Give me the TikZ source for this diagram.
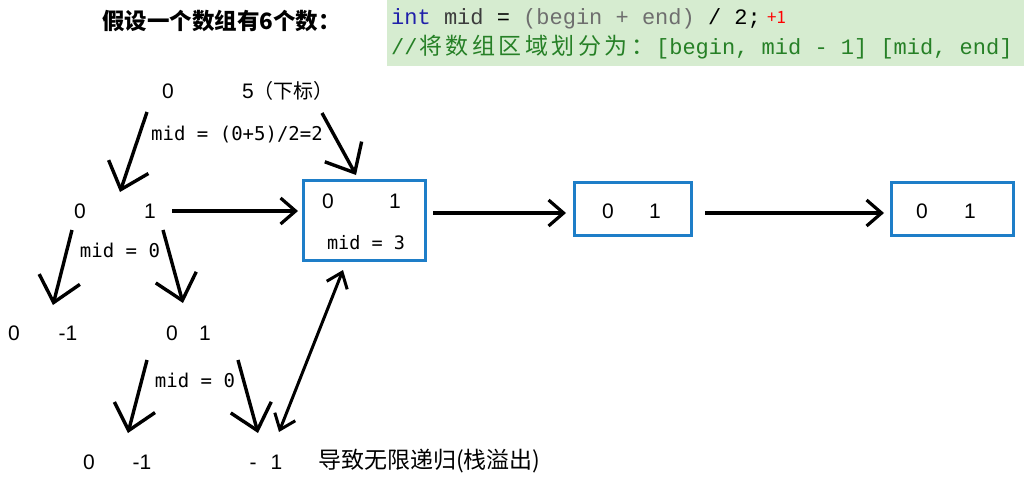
\documentclass[tikz,border=0pt]{standalone}
\usepackage{fontspec}
\setmainfont{Noto Sans CJK SC}
\newfontfamily\cjkfont{Noto Sans CJK SC}
\newfontfamily\monofont{Liberation Mono}
\newfontfamily\numfont{DejaVu Sans Mono}
\newfontfamily\digfont{Liberation Sans}
\usetikzlibrary{arrows.meta}
\definecolor{boxblue}{RGB}{30,126,200}
\definecolor{codebg}{RGB}{214,236,208}
\definecolor{intblue}{RGB}{32,32,170}
\definecolor{midgray}{RGB}{60,60,60}
\definecolor{pargray}{RGB}{110,110,110}
\definecolor{codegreen}{RGB}{38,128,38}
\newcommand\cjkbox[1]{\makebox[26.5pt]{\cjkfont\fontsize{23}{26}\selectfont #1}}
\begin{document}
\begin{tikzpicture}[x=1pt,y=-1pt,
  num/.style={font=\digfont\fontsize{21}{24}\selectfont, inner sep=0pt},
  midlbl/.style={font=\numfont\fontsize{19}{22}\selectfont, inner sep=0pt},
  bluebox/.style={draw=boxblue, line width=3pt, inner sep=0pt},
  tarrow/.style={line width=3.4pt, -{Straight Barb[length=24pt,width=42pt]}},
  harrow/.style={line width=3.2pt, -{Straight Barb[length=15pt,width=26pt]}},
  darrow/.style={line width=3pt, {Straight Barb[length=14pt,width=22pt]}-{Straight Barb[length=14pt,width=22pt]}}]
\useasboundingbox (0,0) rectangle (1024,477);
% code panel
\fill[codebg] (387,0) rectangle (1024,66);
\node[anchor=base west, inner sep=0pt, font=\monofont\fontsize{22}{26}\selectfont] (code1) at (391,24)
  {\textcolor{intblue}{int} \textcolor{midgray}{mid} = \textcolor{pargray}{(begin + end)} / 2;};
\node[anchor=base west, inner sep=0pt, font=\fontsize{17}{20}\selectfont, text=red] (plus1) at (767,23) {+1};
\node[anchor=base west, inner sep=0pt, font=\monofont\fontsize{22}{26}\selectfont, text=codegreen] (code2) at (391,54)
  {//\cjkbox{将}\cjkbox{数}\cjkbox{组}\cjkbox{区}\cjkbox{域}\cjkbox{划}\cjkbox{分}\cjkbox{为}\cjkbox{：}[begin, mid - 1] [mid, end]};
% title
\node[anchor=base west, inner sep=0pt, font=\bfseries\fontsize{22.5}{26}\selectfont] (title) at (102,29) {假设一个数组有6个数：};
% top level
\node[num] (t0) at (168,91) {0};
\node[num, anchor=west] (t5) at (242,91) {5{\cjkfont\fontsize{20}{24}\selectfont（下标）}};
\node[midlbl] (m1) at (237,135) {mid = (0+5)/2=2};
% level 2
\node[num] (a0) at (80,211) {0};
\node[num] (a1) at (150,211) {1};
\node[midlbl] (m2) at (120,250) {mid = 0};
% boxes
\node[bluebox, minimum width=122pt, minimum height=80pt] (b1) at (364,220) {};
\node[num] (b1l) at (328,201) {0};
\node[num] (b1r) at (395,201) {1};
\node[font=\numfont\fontsize{18.5}{22}\selectfont, inner sep=0pt] (b1m) at (366,243) {mid = 3};
\node[bluebox, minimum width=117pt, minimum height=53pt] (b2) at (632.5,208.5) {};
\node[num] (b2l) at (608,211) {0};
\node[num] (b2r) at (655,211) {1};
\node[bluebox, minimum width=122pt, minimum height=53pt] (b3) at (952,208.5) {};
\node[num] (b3l) at (922,211) {0};
\node[num] (b3r) at (970,211) {1};
% level 3
\node[num] (c0) at (14,333) {0};
\node[num] (c1) at (68,333) {-1};
\node[num] (d0) at (172,333) {0};
\node[num] (d1) at (205,333) {1};
\node[midlbl] (m3) at (195,380) {mid = 0};
% level 4
\node[num] (e0) at (89,462) {0};
\node[num] (e1) at (142,462) {-1};
\node[num] (f1) at (266,462) {-\hspace{14pt}1};
\node[anchor=base west, inner sep=0pt, font=\fontsize{23}{26}\selectfont] (note) at (318,468) {导致无限递归(栈溢出)};
% arrow coordinates
\coordinate (T1s) at (147,112); \coordinate (T1e) at (120,192);
\coordinate (T2s) at (322,113); \coordinate (T2e) at (356,175);
\coordinate (L1s) at (72,230);  \coordinate (L1e) at (53,305);
\coordinate (L2s) at (163,230); \coordinate (L2e) at (183,303);
\coordinate (M1s) at (147,360); \coordinate (M1e) at (128,433);
\coordinate (M2s) at (238,360); \coordinate (M2e) at (258,433);
\coordinate (H1s) at (172,211); \coordinate (H1e) at (298,211);
\coordinate (H2s) at (433,213); \coordinate (H2e) at (566,213);
\coordinate (H3s) at (705,213); \coordinate (H3e) at (884,213);
\coordinate (Ds) at (343,270);  \coordinate (De) at (279,432);
\draw[tarrow] (T1s) -- (T1e);
\draw[tarrow] (T2s) -- (T2e);
\draw[tarrow] (L1s) -- (L1e);
\draw[tarrow] (L2s) -- (L2e);
\draw[tarrow] (M1s) -- (M1e);
\draw[tarrow] (M2s) -- (M2e);
\draw[harrow] (H1s) -- (H1e);
\draw[harrow] (H2s) -- (H2e);
\draw[harrow] (H3s) -- (H3e);
\draw[darrow] (Ds) -- (De);
\end{tikzpicture}
\end{document}
